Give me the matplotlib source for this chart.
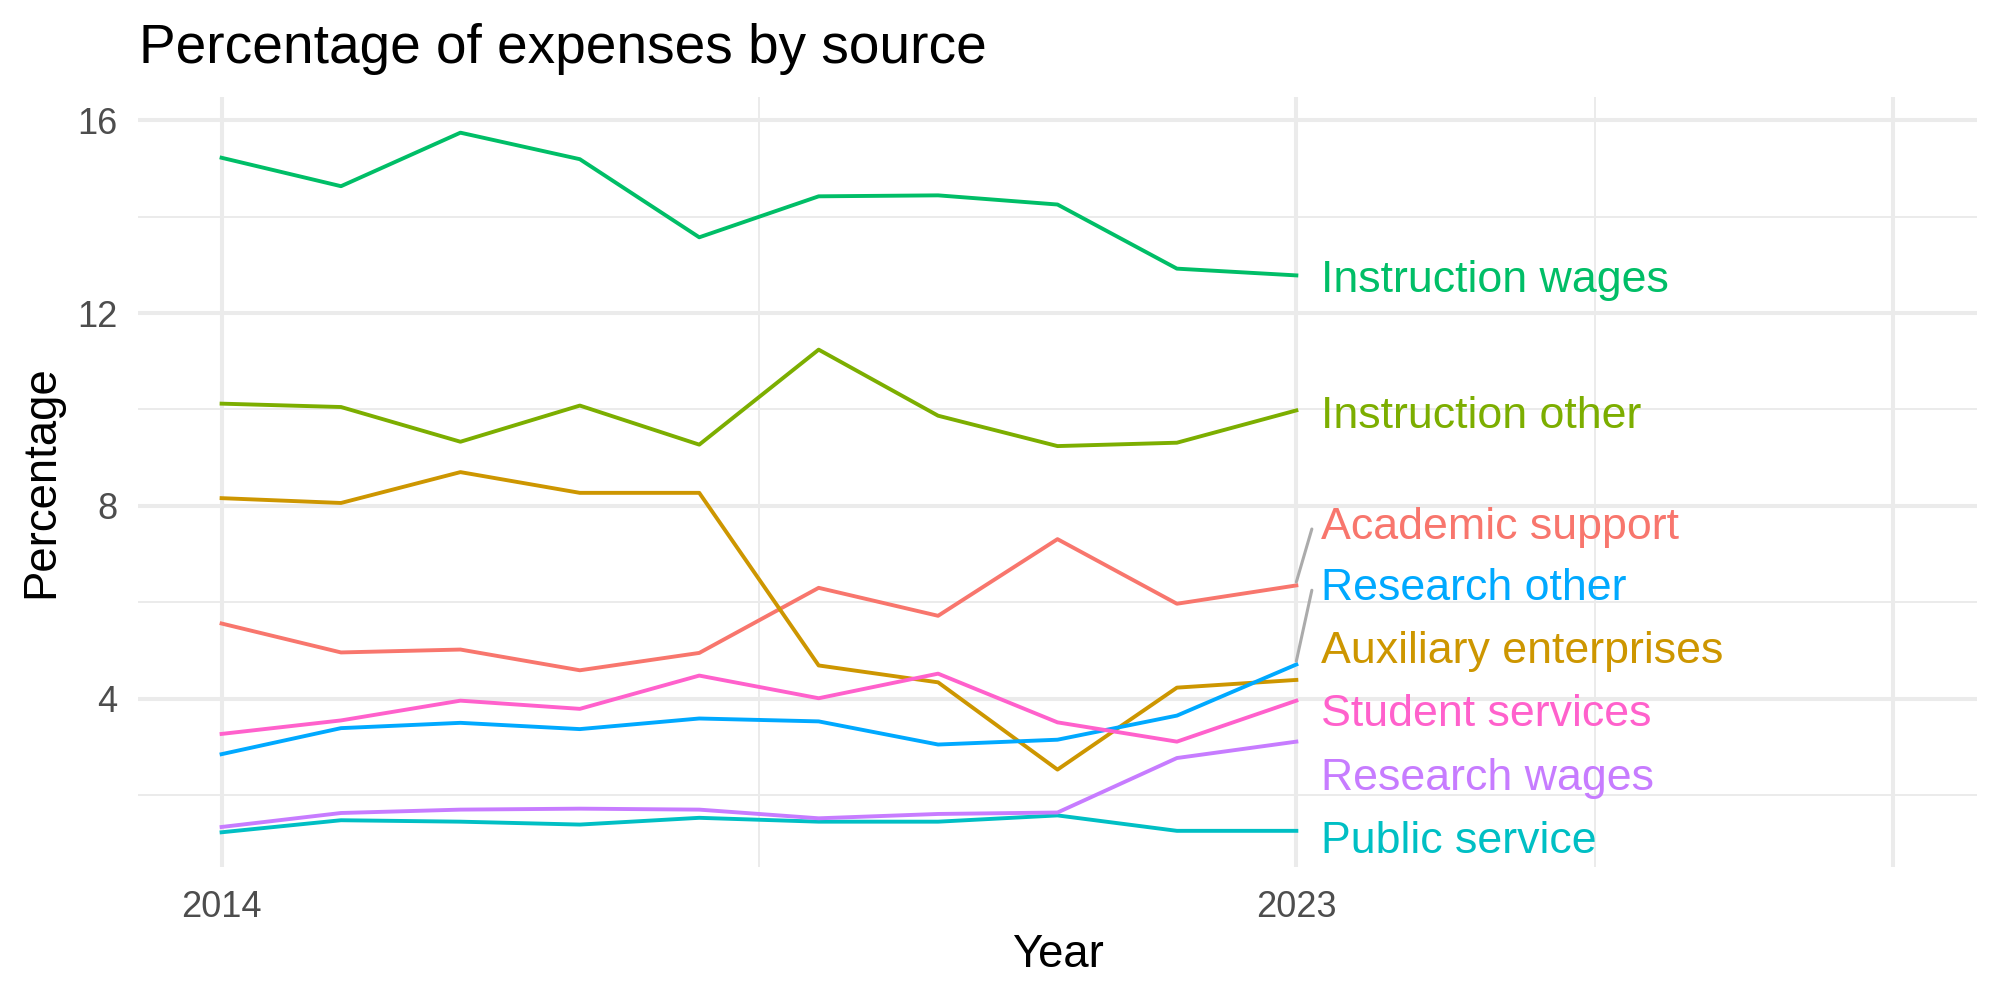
import matplotlib.pyplot as plt

plt.rcParams['font.family'] = ['Liberation Sans', 'DejaVu Sans']

# values (percent of expenses)
years = [2014, 2015, 2016, 2017, 2018, 2019, 2020, 2021, 2022, 2023]
academic_support = [5.56, 4.96, 5.02, 4.59, 4.95, 6.30, 5.72, 7.31, 5.97, 6.35]
auxiliary_enterprises = [8.16, 8.06, 8.70, 8.27, 8.27, 4.69, 4.34, 2.53, 4.23, 4.39]
instruction_other = [10.12, 10.05, 9.33, 10.08, 9.27, 11.24, 9.87, 9.24, 9.31, 9.98]
instruction_wages = [15.22, 14.63, 15.74, 15.19, 13.57, 14.42, 14.44, 14.25, 12.92, 12.78]
public_service = [1.23, 1.48, 1.45, 1.39, 1.53, 1.45, 1.45, 1.58, 1.26, 1.26]
research_other = [2.85, 3.39, 3.50, 3.37, 3.59, 3.53, 3.05, 3.15, 3.65, 4.71]
research_wages = [1.34, 1.63, 1.70, 1.72, 1.70, 1.52, 1.61, 1.64, 2.77, 3.11]
student_services = [3.27, 3.55, 3.96, 3.79, 4.48, 4.01, 4.52, 3.51, 3.11, 3.96]

names = ["Academic support", "Auxiliary enterprises", "Instruction other",
         "Instruction wages", "Public service", "Research other",
         "Research wages", "Student services"]
values = [academic_support, auxiliary_enterprises, instruction_other,
          instruction_wages, public_service, research_other,
          research_wages, student_services]
colors = ["#F8766D", "#CD9600", "#7CAE00", "#00BE67",
          "#00BFC4", "#00A9FF", "#C77CFF", "#FF61CC"]

# where the repelled labels ended up (centre of the text)
label_y = {"Academic support": 7.65, "Auxiliary enterprises": 5.07,
           "Instruction other": 9.94, "Instruction wages": 12.77,
           "Public service": 1.14, "Research other": 6.38,
           "Research wages": 2.44, "Student services": 3.76}

fig = plt.figure(figsize=(10, 5), dpi=200)
ax = fig.add_axes([0.069, 0.133, 0.9195, 0.770])
ax.set_xlim(2013.3, 2028.7)
ax.set_ylim(0.51, 16.48)

ax.set_xticks([2014, 2023, 2028])
ax.set_xticklabels(["2014", "2023", ""])
ax.set_xticks([2018.5, 2025.5], minor=True)
ax.set_yticks([4, 8, 12, 16])
ax.set_yticks([2, 6, 10, 14], minor=True)
ax.grid(which="major", color="#EBEBEB", lw=1.45)
ax.grid(which="minor", color="#EBEBEB", lw=0.72)
ax.set_axisbelow(True)
ax.tick_params(which="both", length=0, labelsize=13, labelcolor="#4D4D4D")
ax.tick_params(axis="y", pad=7.5)
ax.tick_params(axis="x", pad=8.3)
for s in ax.spines.values():
    s.set_visible(False)

for name, vals, c in zip(names, values, colors):
    ax.plot(years, vals, color=c, lw=1.4)
    ax.annotate(name, (2023.21, label_y[name]), xytext=(0, -5.8),
                textcoords="offset points", ha="left", va="baseline",
                fontsize=16.1, color=c)

# connector segments for labels pushed away from their line end
for name, vals in zip(names, values):
    if label_y[name] - vals[-1] > 1.0:
        ax.plot([2023, 2023.13], [vals[-1] + 0.07, label_y[name] - 0.13],
                color="#ABABAB", lw=1.1, solid_capstyle="round")

ax.set_xlabel("Year", fontsize=16.4, va="baseline")
ax.xaxis.set_label_coords(0.5, -0.1295)
ax.set_ylabel("Percentage", fontsize=16.4, va="baseline")
ax.yaxis.set_label_coords(-0.0461, 0.5)

fig.text(0.0695, 1 - 0.0627, "Percentage of expenses by source",
         fontsize=19.8, va="baseline", ha="left")

fig.savefig("out.png")
